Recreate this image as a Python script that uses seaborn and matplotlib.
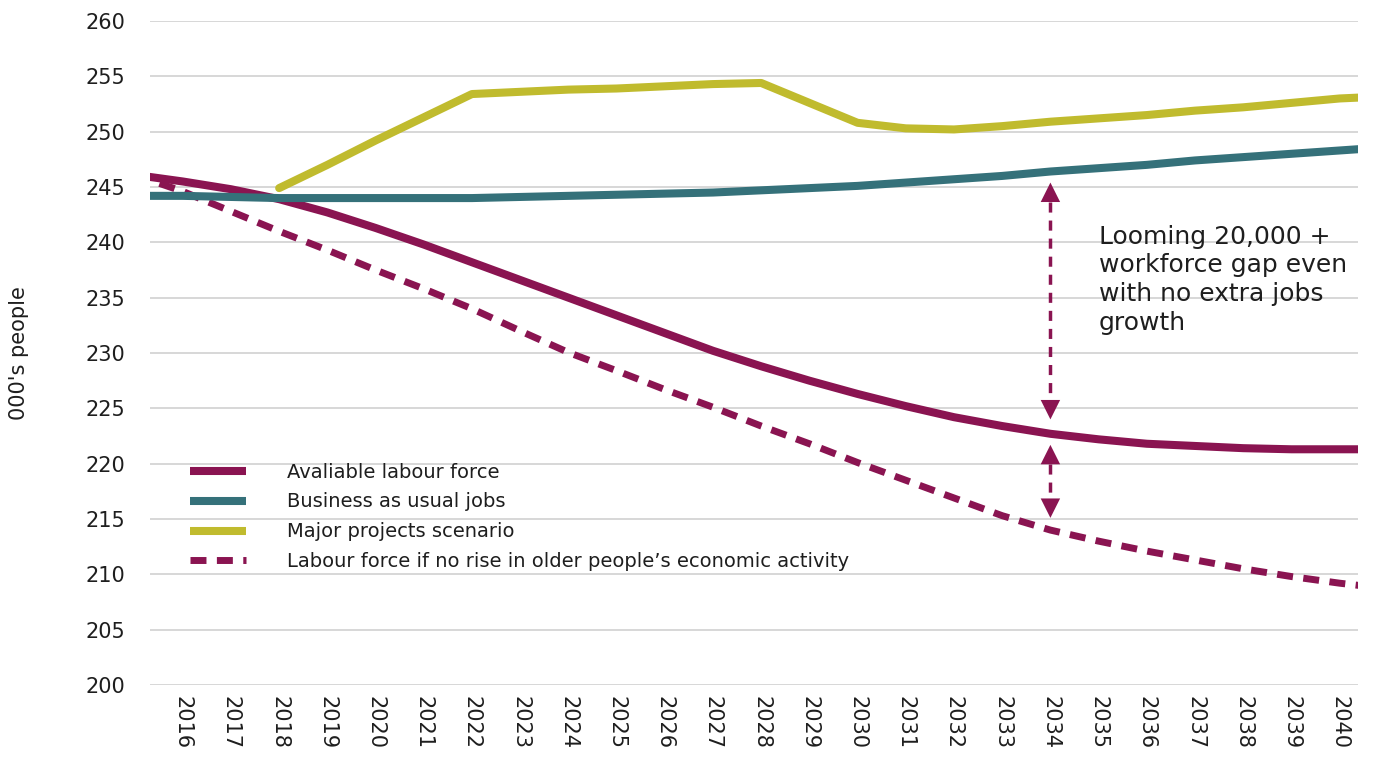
import matplotlib
matplotlib.use("Agg")
import matplotlib.pyplot as plt
import seaborn as sns
import pandas as pd
from matplotlib.lines import Line2D

# Projection years (the lines run slightly past the first and last labelled year)
years = list(range(2015, 2042))
tick_years = list(range(2016, 2041))

available_labour = [246.1, 245.5, 244.8, 243.9, 242.7, 241.3, 239.8, 238.2, 236.6, 235.0,
                    233.4, 231.8, 230.2, 228.8, 227.5, 226.3, 225.2, 224.2, 223.4, 222.7,
                    222.2, 221.8, 221.6, 221.4, 221.3, 221.3, 221.3]
business_as_usual = [244.2, 244.2, 244.1, 244.0, 244.0, 244.0, 244.0, 244.0, 244.1, 244.2,
                     244.3, 244.4, 244.5, 244.7, 244.9, 245.1, 245.4, 245.7, 246.0, 246.4,
                     246.7, 247.0, 247.4, 247.7, 248.0, 248.3, 248.6]
no_older_activity = [246.1, 244.6, 242.8, 241.0, 239.3, 237.5, 235.8, 234.0, 232.0, 230.05,
                     228.4, 226.7, 225.1, 223.4, 221.8, 220.1, 218.5, 216.9, 215.3, 214.0,
                     213.0, 212.1, 211.3, 210.5, 209.8, 209.2, 208.7]

major_years = list(range(2018, 2042))
major_projects = [244.9, 247.0, 249.2, 251.3, 253.4, 253.6, 253.8, 253.9, 254.1, 254.3,
                  254.4, 252.6, 250.8, 250.3, 250.2, 250.5, 250.9, 251.2, 251.5, 251.9,
                  252.2, 252.6, 253.0, 253.2]

labels = ["Avaliable labour force", "Business as usual jobs", "Major projects scenario",
          "Labour force if no rise in older people\u2019s economic activity"]

# Gap markers at 2034: (top tip, bottom tip)
gap_year = 2034
gap_arrows = [(245.4, 224.0), (221.7, 215.1)]

PURPLE = "#8A1451"
TEAL = "#35717A"
YELLOW = "#C0BB2E"
TEXT = "#1e1e1e"

sns.set_theme(style="white")
plt.rcParams["font.family"] = ["DejaVu Sans"]

fig = plt.figure(figsize=(13.81, 7.58), dpi=100)
ax = fig.add_axes([0.1086, 0.0963, 0.8747, 0.876])

main = pd.DataFrame({"year": years, "avail": available_labour,
                     "bau": business_as_usual, "older": no_older_activity})
major = pd.DataFrame({"year": major_years, "major": major_projects})

lw = 5.8
dash = (0, (2.3, 1.5))
sns.lineplot(data=main, x="year", y="older", ax=ax, color=PURPLE, lw=5.0,
             linestyle=dash, dash_capstyle="butt", zorder=3)
sns.lineplot(data=main, x="year", y="avail", ax=ax, color=PURPLE, lw=lw, zorder=4)
sns.lineplot(data=main, x="year", y="bau", ax=ax, color=TEAL, lw=lw, zorder=4)
sns.lineplot(data=major, x="year", y="major", ax=ax, color=YELLOW, lw=lw,
             solid_capstyle="round", zorder=4)

ax.set_xlim(2015.32, 2040.38)
ax.set_ylim(200, 260)
ax.set_yticks(range(200, 261, 5))
ax.set_xticks(tick_years)
ax.set_xticklabels([str(y) for y in tick_years], rotation=-90, fontsize=15, color=TEXT)
ax.tick_params(axis="y", labelsize=15, labelcolor=TEXT, length=0, pad=18)
ax.tick_params(axis="x", length=0, pad=8)
ax.yaxis.grid(True, color="#d4d4d4", lw=1.3)
ax.xaxis.grid(False)
for s in ax.spines.values():
    s.set_visible(False)
ax.set_xlabel("")
ax.set_ylabel("000's people", fontsize=15, color=TEXT)
ax.yaxis.set_label_coords(-0.100, 0.5)

# Double-headed dashed arrows marking the workforce gap
head_len = 1.75
head_kw = dict(arrowstyle="-|>,head_length=1.0,head_width=0.5", color=PURPLE, lw=0,
               shrinkA=0, shrinkB=0, mutation_scale=14)
for top, bottom in gap_arrows:
    ax.plot([gap_year, gap_year], [top - head_len, bottom + head_len], color=PURPLE,
            lw=2.5, linestyle=(0, (2.9, 2.3)), zorder=5)
    ax.annotate("", xy=(gap_year, top), xytext=(gap_year, top - head_len),
                arrowprops=head_kw, zorder=5)
    ax.annotate("", xy=(gap_year, bottom), xytext=(gap_year, bottom + head_len),
                arrowprops=head_kw, zorder=5)

ax.text(2035.0, 241.6, "Looming 20,000 +\nworkforce gap even\nwith no extra jobs\ngrowth",
        fontsize=18, color=TEXT, va="top", ha="left", linespacing=1.25, zorder=6)

handles = [Line2D([], [], color=PURPLE, lw=lw, solid_capstyle="butt"),
           Line2D([], [], color=TEAL, lw=lw, solid_capstyle="butt"),
           Line2D([], [], color=YELLOW, lw=lw, solid_capstyle="butt"),
           Line2D([], [], color=PURPLE, lw=5.0, linestyle=dash, dash_capstyle="butt")]
ax.legend(handles, labels, loc="upper left", bbox_to_anchor=(0.033, 0.335), frameon=False,
          fontsize=14, handlelength=2.9, handletextpad=2.1, labelspacing=0.56,
          borderpad=0, borderaxespad=0, labelcolor=TEXT)

fig.savefig("out.png", dpi=100)
